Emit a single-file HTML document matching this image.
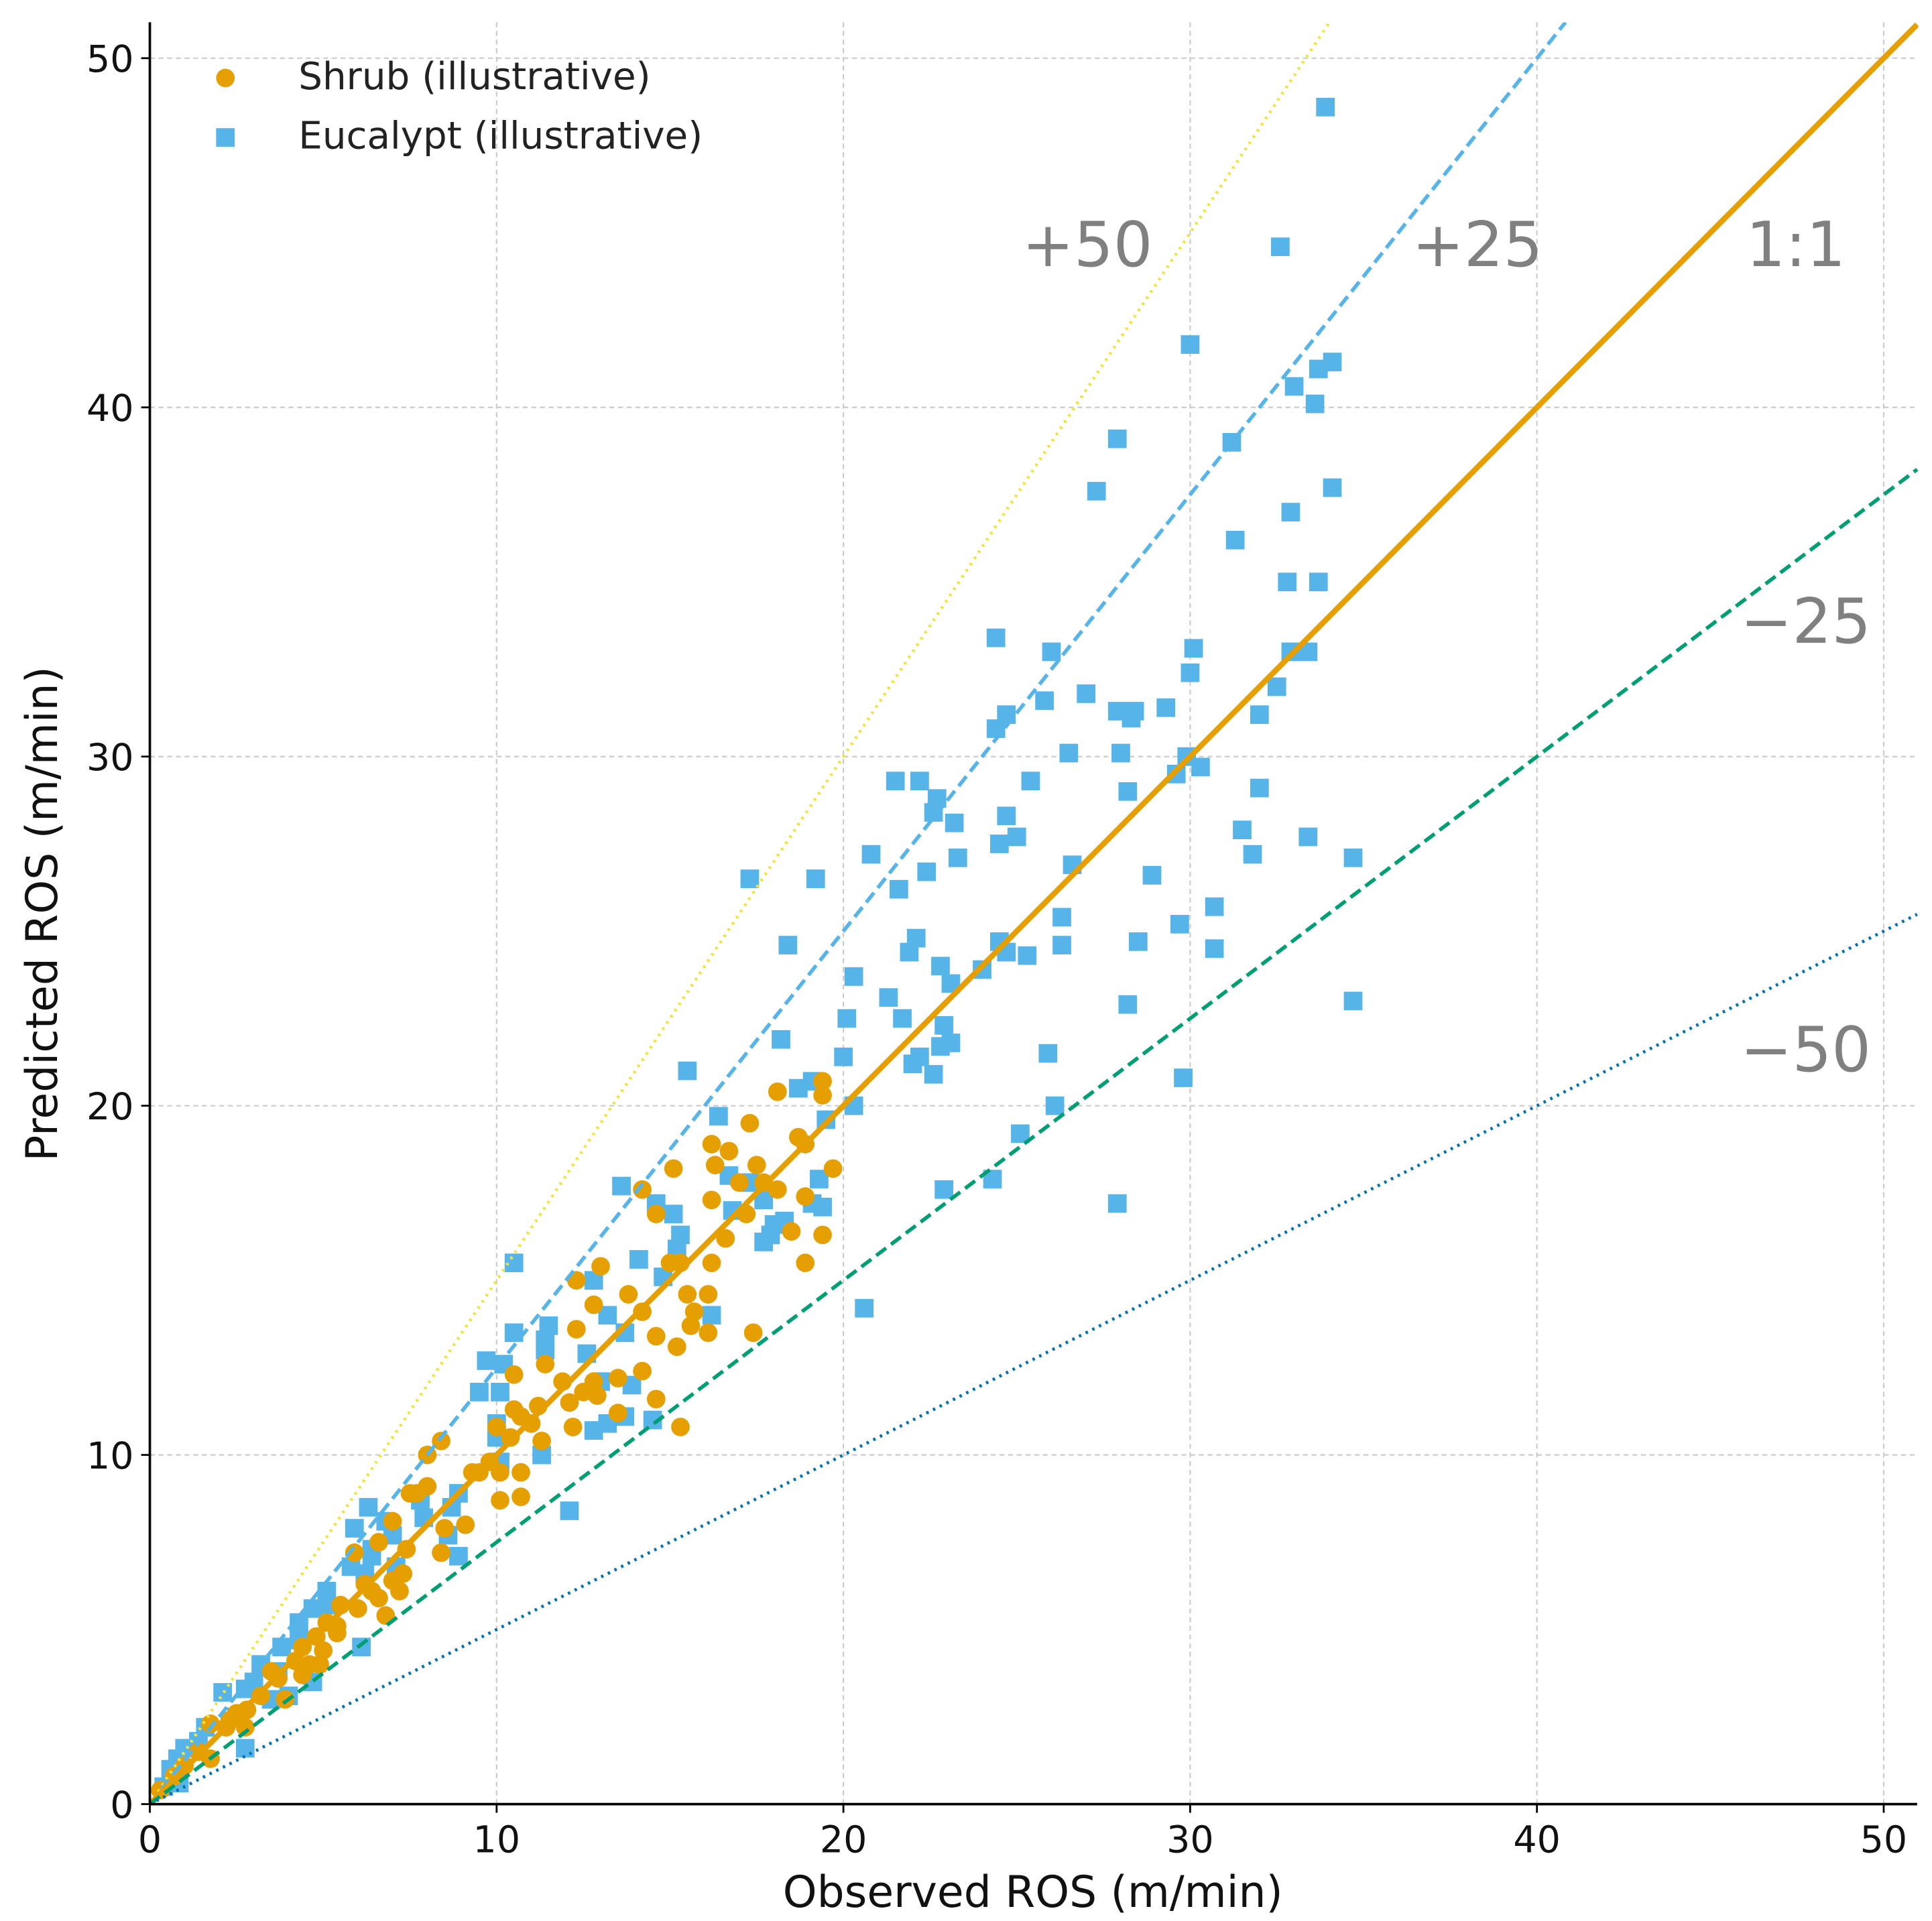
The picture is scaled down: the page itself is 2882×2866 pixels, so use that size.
<!DOCTYPE html>
<html><head><meta charset="utf-8"><style>
html,body{margin:0;padding:0;background:#fff}
svg{display:block}
text{font-family:"DejaVu Sans","Liberation Sans",sans-serif}
</style></head><body>
<svg id="chart" width="2882" height="2866" viewBox="0 0 1560 1551.4" preserveAspectRatio="none" xmlns="http://www.w3.org/2000/svg">
<defs><clipPath id="plotclip"><rect x="121" y="18" width="1428" height="1440"/></clipPath></defs>
<g id="grid"></g>
<g id="points" clip-path="url(#plotclip)"></g>
<g id="lines" clip-path="url(#plotclip)"></g>
<g id="axes"></g>
</svg>
<script>
const xTicks=[0,10,20,30,40,50];
const yTicks=[0,10,20,30,40,50];
const refSlopes=[1.5,1.25,1,0.75,0.5];
const refLabels=["+50","+25","1:1","−25","−50"];
const eucX=[33.9,32.6,30.0,34.1,33.7,33.0,33.6,27.9,31.2,27.3,34.1,32.9,31.3,32.8,33.7,24.4,26.0,30.1,32.9,33.4,30.0,32.5,27.0,25.8,29.3,24.7,27.9,28.4,32.0,28.3,24.4,28.0,26.5,29.9,30.3,29.6,25.4,21.5,22.2,22.7,32.0,28.2,22.6,24.7,23.2,31.5,25.0,33.4,24.5,31.8,20.8,23.3,34.7,26.6,22.4,28.9,17.3,19.2,21.6,30.7,26.3,29.7,24.5,26.3,22.1,28.5,18.4,21.9,30.7,24.7,25.3,22.8,24.0,23.1,20.3,34.7,21.3,28.2,20.1,21.7,22.9,18.2,23.1,22.8,22.2,22.0,25.9,20.0,22.6,15.5,29.8,18.7,19.1,20.3,26.1,19.5,16.4,25.1,13.6,24.3,16.7,19.3,22.9,17.3,17.7,14.6,19.1,19.4,27.9,16.8,15.1,18.0,18.3,17.9,15.3,17.7,15.2,10.5,14.1,14.8,12.8,20.6,16.2,13.2,11.5,10.5,13.7,11.4,11.4,12.6,9.7,10.2,13.9,13.0,9.5,10.1,13.7,14.5,13.2,12.8,10.0,10.0,11.3,12.1,10.1,8.9,7.8,8.7,7.9,6.3,6.8,5.9,7.0,8.6,8.9,6.4,6.4,5.8,6.2,7.1,6.1,5.1,5.1,4.7,4.3,4.3,3.8,4.7,4.0,3.7,3.2,3.0,2.75,2.1,2.75,1.6,1.4,1.0,0.8,0.6,0.85,0.4,2.5,3.5];
const eucY=[48.6,44.6,41.8,41.3,41.1,40.6,40.1,39.1,39.0,37.6,37.7,37.0,36.2,35.0,35.0,33.4,33.0,33.1,33.0,33.0,32.4,32.0,31.8,31.6,31.4,31.2,31.3,31.3,31.2,31.1,30.8,30.1,30.1,30.0,29.7,29.5,29.3,29.3,29.3,28.8,29.1,29.0,28.4,28.3,28.1,27.9,27.7,27.7,27.5,27.2,27.2,27.1,27.1,26.9,26.7,26.6,26.5,26.5,26.2,25.7,25.4,25.2,24.7,24.6,24.8,24.7,24.6,24.4,24.5,24.4,24.3,24.0,23.9,23.5,23.7,23.0,23.1,22.9,22.5,22.5,22.3,21.9,21.8,21.7,21.4,21.2,21.5,21.4,20.9,21.0,20.8,20.5,20.7,20.0,20.0,19.6,19.7,19.2,17.7,17.9,18.0,17.9,17.6,17.8,17.3,17.2,17.2,17.1,17.2,17.0,16.9,16.6,16.7,16.3,16.3,16.1,15.9,15.5,15.6,15.1,15.0,14.2,14.0,14.0,13.7,13.5,13.5,13.3,13.0,12.9,12.7,12.6,12.0,12.1,11.8,11.8,11.1,11.0,10.9,10.7,10.9,10.5,10.0,8.4,9.8,8.9,8.7,8.5,8.2,8.5,8.1,7.9,7.7,7.7,7.1,7.3,7.1,6.8,6.6,6.8,4.5,6.1,5.7,5.6,5.2,4.7,4.5,3.5,3.1,3.8,4.0,3.5,3.3,3.2,1.6,2.2,1.8,1.6,1.3,1.0,0.6,0.5,2.5,3.0];
const shrubX=[19.4,19.4,18.1,16.2,16.7,17.3,18.7,18.9,19.7,15.1,16.3,17.5,17.7,18.1,18.9,14.2,16.2,17.2,18.5,19.4,14.6,15.3,16.2,18.9,12.3,13.0,15.5,16.1,15.7,12.8,13.8,16.1,17.4,15.6,12.3,14.6,15.2,10.5,11.9,13.5,14.2,12.8,14.6,15.3,11.2,12.1,12.5,12.9,10.5,10.7,11.0,10.0,10.4,12.2,9.5,9.3,8.4,10.1,10.7,10.1,10.7,11.3,8.0,8.0,7.7,7.5,7.0,6.6,7.4,8.4,7.3,7.2,6.6,5.9,6.2,6.8,6.0,5.5,5.1,5.4,4.8,4.4,5.0,4.2,4.6,4.9,3.9,3.7,3.2,2.8,2.5,2.2,2.3,1.75,1.75,1.4,1.0,0.7,0.3,3.5,4.4,2.75,5.4,6.4,7.0,8.5,9.1,9.8,11.4,13.5,14.2,15.0,17.0,16.6];
const shrubY=[20.7,20.3,20.4,18.9,18.7,19.5,19.1,18.9,18.2,18.2,18.3,18.3,17.8,17.6,17.4,17.6,17.3,16.9,16.4,16.3,16.9,15.5,15.5,15.5,15.0,15.4,14.6,14.6,14.1,14.3,14.6,13.5,13.5,13.7,13.6,13.4,13.1,12.3,12.1,12.2,12.4,12.1,11.6,10.8,11.4,11.5,11.8,11.7,11.3,11.1,10.9,10.8,10.5,10.8,9.5,9.5,10.4,9.5,9.5,8.7,8.8,10.4,10.0,9.1,8.9,8.9,8.1,7.5,7.3,7.2,6.6,6.1,5.9,7.2,6.3,5.4,5.6,5.7,5.2,4.9,4.8,4.5,4.4,4.1,4.0,4.0,3.0,3.6,3.1,2.7,2.6,2.2,2.4,2.3,1.3,1.5,1.1,0.8,0.4,3.8,3.7,2.2,5.1,6.1,6.4,7.9,8.0,9.8,12.6,11.2,14.1,15.5,17.8,16.2];

const NS="http://www.w3.org/2000/svg";
const X=v=>121+v*28;
const Y=v=>1457-v*28.2;
const XMAX=(1548-121)/28, YMAX=(1457-18)/28.2;
function el(tag,attrs,parent,text){const e=document.createElementNS(NS,tag);for(const k in attrs)e.setAttribute(k,attrs[k]);if(text!==undefined)e.textContent=text;parent.appendChild(e);return e;}
const grid=document.getElementById('grid'),axes=document.getElementById('axes'),pts=document.getElementById('points'),lines=document.getElementById('lines');

xTicks.forEach(t=>{
  const g=el('line',{x1:X(t),x2:X(t),y1:18,y2:1457,stroke:'#cccccc','stroke-width':1.2,'stroke-dasharray':'4,3'},grid);
  
  
  el('line',{x1:X(t),x2:X(t),y1:1457,y2:1464,stroke:'#000','stroke-width':1.5},axes);
  const l=el('text',{x:X(t),y:1496,'font-size':30,'text-anchor':'middle',fill:'#111'},axes,String(t));
  
  
});
yTicks.forEach(t=>{
  const g=el('line',{x1:121,x2:1548,y1:Y(t),y2:Y(t),stroke:'#cccccc','stroke-width':1.2,'stroke-dasharray':'4,3'},grid);
  
  
  el('line',{x1:114,x2:121,y1:Y(t),y2:Y(t),stroke:'#000','stroke-width':1.5},axes);
  const l=el('text',{x:108,y:Y(t)+11,'font-size':30,'text-anchor':'end',fill:'#111'},axes,String(t));
  
  
});
el('line',{x1:121,x2:121,y1:18,y2:1457,stroke:'#000','stroke-width':2},axes);
el('line',{x1:121,x2:1548,y1:1457,y2:1457,stroke:'#000','stroke-width':2},axes);
const xt=el('text',{x:834,y:1540,'font-size':35,'text-anchor':'middle',fill:'#111'},axes,'Observed ROS (m/min)');


const yt=el('text',{x:0,y:0,'font-size':35,'text-anchor':'middle',fill:'#111',transform:'translate(46,738) rotate(-90)'},axes,'Predicted ROS (m/min)');



eucX.forEach((x,i)=>{
  const r=el('rect',{x:X(x)-7.5,y:Y(eucY[i])-7.5,width:15,height:15,fill:'#56B4E9'},pts);
  
  
});
shrubX.forEach((x,i)=>{
  const c=el('circle',{cx:X(x),cy:Y(shrubY[i]),r:7.5,fill:'#E69F00'},pts);
  
  
});

const lineStyles=[
 {stroke:'#F0E442',w:2.5,dash:'2,4'},
 {stroke:'#56B4E9',w:3,dash:'10,5'},
 {stroke:'#E69F00',w:4.5,dash:''},
 {stroke:'#009E73',w:3,dash:'10,5'},
 {stroke:'#0072B2',w:2.5,dash:'2,4'}];
refSlopes.forEach((s,i)=>{
  const xe=Math.min(XMAX,YMAX/s);
  const st=lineStyles[i];
  const a={x1:X(0),y1:Y(0),x2:X(xe),y2:Y(xe*s),stroke:st.stroke,'stroke-width':st.w};
  if(st.dash)a['stroke-dasharray']=st.dash;
  const l=el('line',a,lines);
  
  
});
const annPos=[[878,215],[1193,215],[1450,215],[1458,519],[1458,865]];
refLabels.forEach((t,i)=>{
  const a=el('text',{x:annPos[i][0],y:annPos[i][1],'font-size':50,'text-anchor':'middle',fill:'#808080'},axes,t);
  
  
});

const leg=el('g',{},axes);


const lc=el('circle',{cx:182,cy:63,r:7.5,fill:'#E69F00'},leg);


const lt1=el('text',{x:241,y:72,'font-size':30.5,fill:'#222'},leg,'Shrub (illustrative)');


const ls=el('rect',{x:174.5,y:103.5,width:15,height:15,fill:'#56B4E9'},leg);


const lt2=el('text',{x:241,y:120,'font-size':30.5,fill:'#222'},leg,'Eucalypt (illustrative)');


</script>
</body></html>
